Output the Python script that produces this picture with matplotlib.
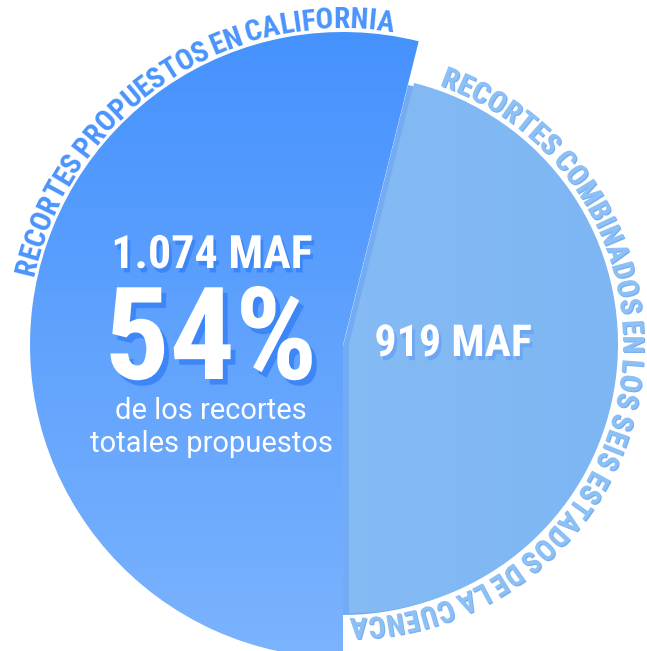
import numpy as np
import matplotlib
matplotlib.use("Agg")
import matplotlib.pyplot as plt
from matplotlib.patches import Wedge
from matplotlib.colors import LinearSegmentedColormap
import matplotlib.patheffects as pe

# data
labels = ["RECORTES PROPUESTOS EN CALIFORNIA",
          "RECORTES COMBINADOS EN LOS SEIS ESTADOS DE LA CUENCA"]
values = [1.074, 0.919]          # millones de acre-pies
value_text = ["1.074 MAF", "919 MAF"]
share_text = "54%"
note_lines = ["de los recortes", "totales propuestos"]

W, H = 647, 651
FONT = "Roboto Condensed"

fig = plt.figure(figsize=(W / 100, H / 100), dpi=100)
ax = fig.add_axes([0, 0, 1, 1])
ax.set_xlim(0, W)
ax.set_ylim(0, H)
ax.axis("off")


def py(y):
    # pixel row (from top) -> data y
    return H - y


def pt(px):
    return px * 0.72


# slice angles from the data (California ends straight down)
frac = values[0] / sum(values)
split = 270 - 360 * frac

ca_c, ca_r = (343, py(345)), 313
ot_c, ot_r = (349, py(344)), 269


def grad_wedge(center, r, t1, t2, c_from, c_to, horizontal=False, z=1):
    w = Wedge(center, r, t1, t2, facecolor="none", edgecolor="none")
    ax.add_patch(w)
    cmap = LinearSegmentedColormap.from_list("g", [c_from, c_to])
    g = np.linspace(0, 1, 256)
    arr = g.reshape(1, -1) if horizontal else g.reshape(-1, 1)
    im = ax.imshow(arr, cmap=cmap, origin="lower", aspect="auto", zorder=z,
                   extent=[center[0] - r, center[0] + r, center[1] - r, center[1] + r],
                   interpolation="bilinear")
    im.set_clip_path(w)


# shadow strip along the edge of the smaller slice
ax.add_patch(Wedge((ot_c[0] - 6, ot_c[1] - 2), ot_r, -90, split,
                   facecolor="#74acf4", edgecolor="none", zorder=0.5))
grad_wedge(ca_c, ca_r, split, 270, "#7bb3fd", "#4692fe", z=1)
grad_wedge(ot_c, ot_r, -90, split, "#8ec0f3", "#7db6f4", horizontal=True, z=2)
ax.set_xlim(0, W)
ax.set_ylim(0, H)

renderer = fig.canvas.get_renderer()


def text_w(t, size, weight):
    tt = ax.text(0, 0, t, fontsize=size, family=FONT, weight=weight)
    w = tt.get_window_extent(renderer).width
    tt.remove()
    return w


def arc_text(s, center, r_base, a_start, a_end, color, size_px, shadow=None):
    size = pt(size_px)
    base = text_w("HH", size, "bold")
    adv = [text_w("H" + c + "H", size, "bold") - base for c in s]
    adv = [a * 0.6 if c == " " else a for c, a in zip(s, adv)]
    span = np.radians(a_start - a_end) * r_base
    track = (span - sum(adv)) / len(s)
    effects = None
    if shadow:
        effects = [pe.SimplePatchShadow(offset=(0.8, -0.8), shadow_rgbFace=shadow, alpha=1),
                   pe.Normal()]
    pos = 0
    for c, a in zip(s, adv):
        a += track
        ang = a_start - np.degrees((pos + a / 2) / r_base)
        pos += a
        x = center[0] + r_base * np.cos(np.radians(ang))
        y = center[1] + r_base * np.sin(np.radians(ang))
        ax.text(x, y, c, fontsize=size, family=FONT, weight="bold", color=color,
                rotation=ang - 90, rotation_mode="anchor", ha="center", va="baseline",
                zorder=5, path_effects=effects)


arc_text(labels[0], ca_c, 317, 167.6, 81.0, "#4a94fd", 29.5)
arc_text(labels[1], ot_c, 274, 70.8, -90.0, "#8dc0f4", 29.5, shadow="#78aef0")

# centre labels
def shadow(c, off):
    return [pe.SimplePatchShadow(offset=off, shadow_rgbFace=c, alpha=1), pe.Normal()]


ax.text(212, py(268), value_text[0], fontsize=pt(46), family=FONT, weight="bold",
        color="white", ha="center", va="baseline", zorder=6,
        path_effects=shadow("#3d86f8", (2, -3.2)))
ax.text(211, py(379), share_text, fontsize=pt(129), family=FONT, weight="bold",
        color="white", ha="center", va="baseline", zorder=6,
        path_effects=shadow("#3d86f8", (3.5, -4)))
for i, line in enumerate(note_lines):
    ax.text(211, py(419 + 33 * i), line, fontsize=pt(29), family="Roboto",
            color="white", ha="center", va="baseline", zorder=6)
ax.text(453, py(356), value_text[1], fontsize=pt(44), family=FONT, weight="bold",
        color="white", ha="center", va="baseline", zorder=6,
        path_effects=shadow("#6ca7f5", (2, -3)))

fig.savefig("out.png", dpi=100)
